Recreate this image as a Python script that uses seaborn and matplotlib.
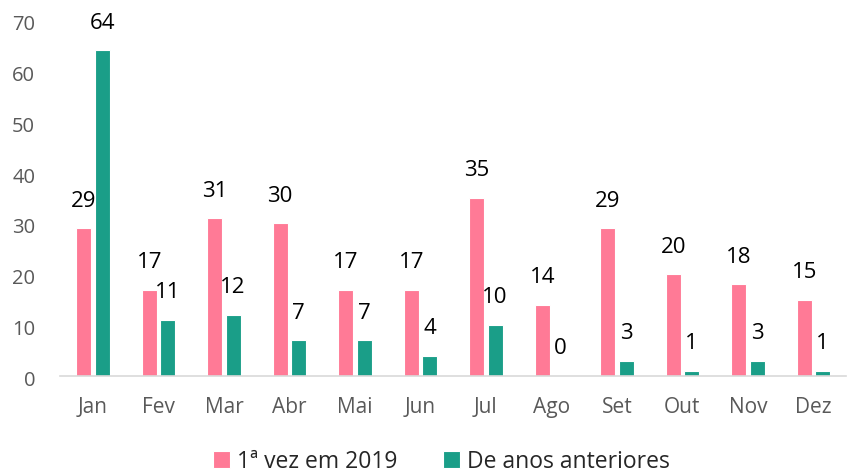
import matplotlib
matplotlib.use("Agg")
import matplotlib.pyplot as plt
import matplotlib.transforms as mtransforms
import seaborn as sns
import pandas as pd
import numpy as np
from matplotlib.ticker import FixedLocator

months = ["Jan", "Fev", "Mar", "Abr", "Mai", "Jun", "Jul", "Ago", "Set", "Out", "Nov", "Dez"]
first_2019 = [29, 17, 31, 30, 17, 17, 35, 14, 29, 20, 18, 15]
previous_years = [64, 11, 12, 7, 7, 4, 10, 0, 3, 1, 3, 1]
series_names = ["1ª vez em 2019", "De anos anteriores"]
colors = ["#FF7A96", "#1A9E88"]

df = pd.DataFrame({
    "Mês": months * 2,
    "Valor": first_2019 + previous_years,
    "Série": [series_names[0]] * 12 + [series_names[1]] * 12,
})

sns.set_style("white")
plt.rcParams['font.family'] = ['Open Sans', 'DejaVu Sans']

fig = plt.figure(figsize=(8.47, 4.73), dpi=100)
ax = fig.add_axes([0.071, 0.205, 0.928, 0.753])

sns.barplot(data=df, x="Mês", y="Valor", hue="Série", order=months,
            hue_order=series_names, palette=colors, saturation=1,
            width=0.56, gap=0.18, edgecolor="white", linewidth=0.8,
            ax=ax, legend=True)

for cont in ax.containers:
    ax.bar_label(cont, padding=12, fontsize=16, color="black")

ax.set_xlim(-0.5, 11.5)
ax.set_ylim(0, 70)
ax.set_yticks(range(0, 71, 10))
ax.set_xlabel("")
ax.set_ylabel("")
for s in ["top", "right", "left"]:
    ax.spines[s].set_visible(False)
ax.spines["bottom"].set_color("#D9D9D9")
ax.spines["bottom"].set_linewidth(1.2)
ax.tick_params(axis="y", length=0, labelsize=14.5, labelcolor="#595959", pad=18)
ax.tick_params(axis="x", which="major", length=0, labelsize=15, labelcolor="#595959", pad=15)
ax.xaxis.set_minor_locator(FixedLocator(np.arange(-0.5, 12, 1)))
ax.tick_params(axis="x", which="minor", length=6, color="#D9D9D9", width=1.2)

shift = mtransforms.ScaledTranslation(0, -2.5 / 100, fig.dpi_scale_trans)
for lbl in ax.get_yticklabels():
    lbl.set_transform(lbl.get_transform() + shift)

leg = ax.legend(loc="center", bbox_to_anchor=(0.485, -0.24), ncol=2, frameon=False,
                fontsize=16.5, handlelength=0.75, handleheight=0.75, handletextpad=0.3,
                columnspacing=2.0)

fig.savefig("out.png", dpi=100)
